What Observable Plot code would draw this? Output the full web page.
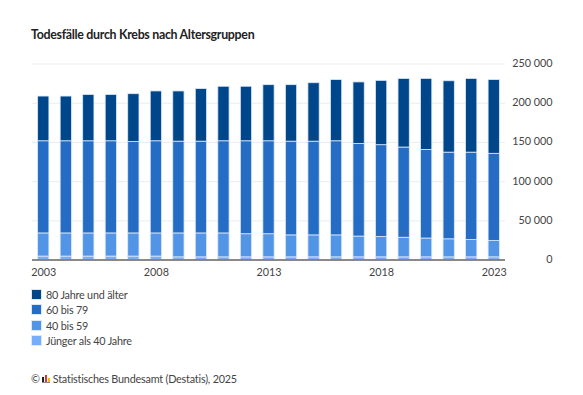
<!DOCTYPE html>
<html lang="de">
<head>
<meta charset="utf-8">
<script src="https://cdn.jsdelivr.net/npm/d3@7"></script>
<script src="https://cdn.jsdelivr.net/npm/@observablehq/plot@0.6"></script>
<style>
html,body{margin:0;padding:0;background:#fff;width:583px;height:395px;overflow:hidden;font-family:Lato,sans-serif;color:#333}
#wrap{position:relative;width:583px;height:395px}
#title{position:absolute;left:31px;top:26px;font-size:12.4px;font-weight:700;color:#222;line-height:17px;white-space:nowrap;letter-spacing:-0.3px}
#chart{position:absolute;left:0;top:50px}
#legend{position:absolute;left:31px;top:287px}
.row{display:flex;align-items:center;height:15.3px;font-size:10.8px;color:#444;white-space:nowrap;letter-spacing:-0.2px}
.sw{width:11px;height:11px;margin-right:4px;box-sizing:border-box;border:1px solid #dce8f8}
#source{position:absolute;left:31px;top:371px;font-size:10.8px;color:#444;line-height:15px;white-space:nowrap;display:flex;align-items:center;letter-spacing:-0.2px}
#logo{display:inline-block;margin:0 3px 0 2px}
</style>
</head>
<body>
<div id="wrap">
<div id="title">Todesfälle durch Krebs nach Altersgruppen</div>
<div id="chart"></div>
<div id="legend"></div>
<div id="source"><span>©</span><svg id="logo" width="8" height="8" viewBox="0 0 8 8"><rect x="0" y="2" width="2" height="5" fill="#222"/><rect x="3" y="0" width="2" height="7" fill="#d33"/><rect x="6" y="3" width="2" height="4" fill="#eb0"/><rect x="0" y="7" width="8" height="1" fill="#888"/></svg><span>Statistisches Bundesamt (Destatis), 2025</span></div>
</div>
<script>
const years = [2003,2004,2005,2006,2007,2008,2009,2010,2011,2012,2013,2014,2015,2016,2017,2018,2019,2020,2021,2022,2023];
const groups = ["Jünger als 40 Jahre","40 bis 59","60 bis 79","80 Jahre und älter"];
const legendOrder = ["80 Jahre und älter","60 bis 79","40 bis 59","Jünger als 40 Jahre"];
const colors = ["#76aefb","#5294e6","#256cc4","#00468b"];
const tickYears = [2003,2008,2013,2018,2023];
const yTicks = [0,50000,100000,150000,200000,250000];

const under40 = [4500,4500,4500,4500,4500,4500,3500,3500,3500,3500,3500,3500,3500,3500,3500,3500,3500,3500,3500,3500,3500];
const from40to59 = [29500,29500,29500,29500,29500,29500,30500,30500,30500,29500,29500,28000,28000,28000,26500,26000,25000,24000,23000,22000,21000];
const from60to79 = [117500,117500,117500,117500,116500,117500,117000,117000,117500,118500,118500,119500,119500,120000,118000,117000,115000,113000,110500,111500,111000];
const over80 = [57000,57000,59000,59000,61000,63500,64000,67000,69500,69500,71500,72000,74500,78000,78500,82000,87500,90500,91000,94000,94000];

const series = [under40, from40to59, from60to79, over80];
const rows = groups.flatMap((g, i) => years.map((y, j) => ({year: y, group: g, value: series[i][j]})));
const fmt = d => d3.format(",")(d).replace(/,/g, "\u00a0");

const plot = Plot.plot({
  width: 583, height: 232,
  marginLeft: 32, marginRight: 78, marginTop: 13.5, marginBottom: 22.4,
  style: {fontFamily: 'Lato,sans-serif', fontSize: "10.8px", color: "#444", background: "#fff"},
  x: {type: "band", domain: years, paddingInner: 0.5, paddingOuter: 0.25, align: 0.5, round: false, label: null},
  y: {domain: [0, 250000], label: null},
  color: {domain: groups, range: colors},
  marks: [
    Plot.gridY(yTicks, {stroke: "#ececec", strokeOpacity: 1, strokeWidth: 1}),
    Plot.barY(rows, Plot.stackY({
      x: "year", y: "value", fill: "group", order: groups,
      stroke: "#dce8f8", strokeWidth: 0.8
    })),
    Plot.ruleY([0], {stroke: "#666", strokeWidth: 1.5}),
    Plot.axisY(yTicks, {anchor: "right", tickSize: 0, tickFormat: fmt, textAnchor: "end", dx: 38, dy: -0.5, label: null, fill: "#444"}),
    Plot.axisX(tickYears, {tickSize: 0, tickPadding: 8, tickFormat: d => String(d), label: null, fill: "#444"})
  ]
});
document.getElementById("chart").appendChild(plot);

const legend = document.getElementById("legend");
for (const g of legendOrder) {
  const row = document.createElement("div"); row.className = "row";
  const sw = document.createElement("span"); sw.className = "sw";
  sw.style.background = colors[groups.indexOf(g)];
  const t = document.createElement("span"); t.textContent = g;
  row.append(sw, t); legend.append(row);
}
</script>
</body>
</html>
